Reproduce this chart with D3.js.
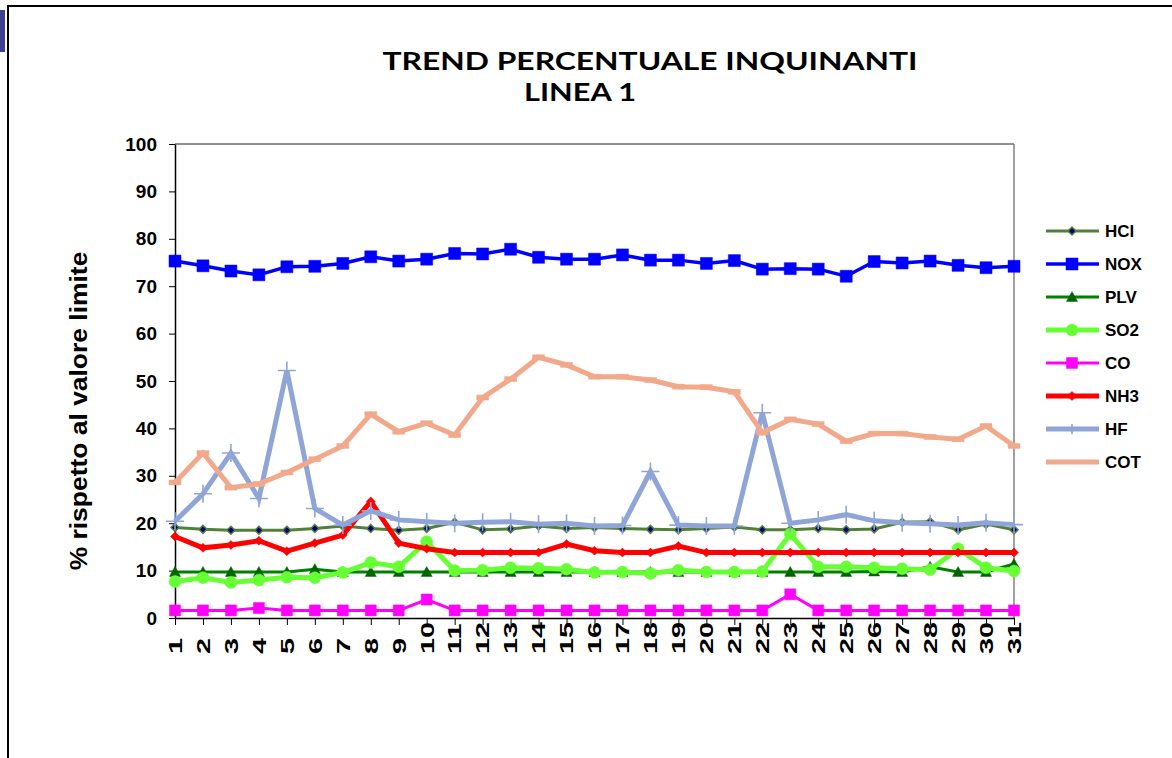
<!DOCTYPE html>
<html><head><meta charset="utf-8">
<script src="https://cdn.jsdelivr.net/npm/d3@7"></script>
<style>html,body{margin:0;padding:0;background:#fff;overflow:hidden}svg{display:block}</style>
</head><body>
<svg id="c" width="1172" height="758"></svg>
<script>
const days = d3.range(1, 32).map(String);
const yTicks = [0,10,20,30,40,50,60,70,80,90,100];
const seriesNames = ["HCl","NOX","PLV","SO2","CO","NH3","HF","COT"];
const HCl = [19.1,18.7,18.5,18.5,18.5,18.9,19.4,18.9,18.5,18.9,20.2,18.6,18.8,19.4,18.9,19.1,18.9,18.7,18.6,18.9,19.2,18.6,18.6,18.9,18.6,18.8,20.2,20.3,18.6,19.8,18.6];
const NOX = [75.3,74.3,73.2,72.4,74.1,74.2,74.8,76.2,75.3,75.7,76.9,76.8,77.8,76.1,75.7,75.7,76.6,75.5,75.5,74.8,75.4,73.6,73.7,73.6,72.1,75.2,74.9,75.3,74.4,73.9,74.2];
const PLV = [9.7,9.7,9.7,9.7,9.7,10.3,9.7,9.7,9.7,9.7,9.7,9.7,9.7,9.7,9.7,9.7,9.7,9.7,9.7,9.7,9.7,9.7,9.7,9.7,9.7,9.8,9.7,10.8,9.7,9.7,11.4];
const SO2 = [7.7,8.5,7.5,8.0,8.6,8.5,9.6,11.7,10.8,16.1,10.0,10.1,10.6,10.5,10.3,9.6,9.7,9.4,10.1,9.7,9.7,9.8,17.7,10.8,10.8,10.6,10.4,10.2,14.6,10.6,9.9];
const CO = [1.6,1.6,1.6,2.1,1.6,1.6,1.6,1.6,1.6,3.9,1.6,1.6,1.6,1.6,1.6,1.6,1.6,1.6,1.6,1.6,1.6,1.6,5.0,1.6,1.6,1.6,1.6,1.6,1.6,1.6,1.6];
const NH3 = [17.2,14.8,15.4,16.3,14.1,15.8,17.5,24.6,15.8,14.6,13.8,13.8,13.8,13.8,15.6,14.2,13.8,13.8,15.2,13.8,13.8,13.8,13.8,13.8,13.8,13.8,13.8,13.8,13.8,13.8,13.8];
const HF = [20.4,26.2,34.8,25.2,52.2,23.1,19.6,22.6,20.7,20.3,20.0,20.2,20.3,19.8,20.0,19.4,19.5,30.9,19.6,19.4,19.4,43.3,20.0,20.7,21.8,20.5,20.1,19.9,19.6,20.1,19.7];
const COT = [28.6,34.8,27.5,28.3,30.7,33.5,36.3,43.0,39.3,41.1,38.6,46.5,50.4,55.0,53.4,50.9,50.9,50.2,48.8,48.7,47.7,39.1,41.9,40.9,37.3,38.9,38.9,38.2,37.7,40.5,36.3];

const dataBy = {HCl, NOX, PLV, SO2, CO, NH3, HF, COT};
const styles = {
  HCl: {color:"#52803a", width:3, marker:"diamond", size:8, fill:"#00007a", stroke:"#52803a"},
  NOX: {color:"#0000ff", width:3.5, marker:"square", size:12, fill:"#0000ff"},
  PLV: {color:"#008000", width:3, marker:"triangle", size:11, fill:"#006400"},
  SO2: {color:"#66ff33", width:5, marker:"circle", size:12, fill:"#66ff33"},
  CO:  {color:"#ff00ff", width:3, marker:"square", size:11, fill:"#ff00ff"},
  NH3: {color:"#ff0000", width:5, marker:"diamond", size:9, fill:"#ff0000"},
  HF:  {color:"#8fa5d8", width:5, marker:"plus", size:18, fill:"#8fa5d8"},
  COT: {color:"#f2a98b", width:5, marker:"dash", size:12, fill:"#f2a98b"}
};

const svg = d3.select("#c");
const L = 175, R = 1014, T = 144, B = 618;
const x = d3.scalePoint().domain(days).range([L, R]);
const y = d3.scaleLinear().domain([0, 100]).range([B, T]);

// outer frame & slide artifacts
svg.append("rect").attr("x",0).attr("y",10).attr("width",5).attr("height",42).attr("fill","#3d4190");
svg.append("path").attr("d","M8,758 L8,6 L1172,6").attr("fill","none").attr("stroke","#000").attr("stroke-width",2);

// title
const tf = "Lato, 'Open Sans', sans-serif";
svg.append("text").attr("x",650).attr("y",70).attr("text-anchor","middle")
  .attr("font-family",tf).attr("font-weight",700).attr("font-size",25)
  .attr("textLength",535).attr("lengthAdjust","spacingAndGlyphs")
  .text("TREND PERCENTUALE INQUINANTI");
svg.append("text").attr("x",580).attr("y",101).attr("text-anchor","middle")
  .attr("font-family",tf).attr("font-weight",700).attr("font-size",25)
  .attr("textLength",112).attr("lengthAdjust","spacingAndGlyphs")
  .text("LINEA 1");

// plot borders
svg.append("line").attr("x1",L).attr("x2",R).attr("y1",T).attr("y2",T).attr("stroke","#222").attr("stroke-width",1);
svg.append("line").attr("x1",R).attr("x2",R).attr("y1",T).attr("y2",B).attr("stroke","#808080").attr("stroke-width",1.5);

// axes
const af = "'Liberation Sans', Arial, sans-serif";
const yAxis = svg.append("g").attr("transform",`translate(${L},0)`)
  .call(d3.axisLeft(y).tickValues(yTicks).tickSize(6).tickPadding(12).tickSizeOuter(0));
yAxis.select(".domain").attr("stroke","#000").attr("stroke-width",1.5);
yAxis.selectAll(".tick line").attr("stroke","#000");
yAxis.selectAll(".tick text").attr("font-family",af).attr("font-weight",700).attr("font-size",19).attr("fill","#000");

const xAxis = svg.append("g").attr("transform",`translate(0,${B})`)
  .call(d3.axisBottom(x).tickSize(7).tickSizeOuter(0));
xAxis.select(".domain").attr("stroke","#000").attr("stroke-width",1.5);
xAxis.selectAll(".tick line").attr("stroke","#000");
xAxis.selectAll(".tick text").attr("font-family",af).attr("font-weight",700).attr("font-size",18).attr("fill","#000")
  .attr("text-anchor","start").attr("dy","0.35em").attr("y",0).attr("x",0)
  .attr("transform","translate(0,36) rotate(-90) scale(1.6,1)");

// y label
svg.append("text").attr("transform","translate(87,411) rotate(-90) scale(1.15,1)").attr("text-anchor","middle")
  .attr("font-family",af).attr("font-weight",700).attr("font-size",23).text("% rispetto al valore limite");

function markerPath(type, s){
  const h = s/2;
  switch(type){
    case "square": return `M${-h},${-h}h${s}v${s}h${-s}Z`;
    case "diamond": return `M0,${-h}L${h},0L0,${h}L${-h},0Z`;
    case "triangle": return `M0,${-h}L${h},${h*0.8}L${-h},${h*0.8}Z`;
    case "circle": return d3.symbol(d3.symbolCircle, Math.PI*h*h)();
    case "plus": return `M${-h},0H${h}M0,${-h}V${h}`;
    case "dash": return `M${-h},-2.5h${s}v5h${-s}Z`;
  }
}
function drawMarker(g, type, st, cx, cy){
  const p = g.append("path").attr("transform",`translate(${cx},${cy})`).attr("d", markerPath(type, st.size));
  if (type === "plus") p.attr("fill","none").attr("stroke",st.color).attr("stroke-width",1.6);
  else p.attr("fill",st.fill).attr("stroke",st.stroke||st.fill).attr("stroke-width",st.stroke?1.5:0.5);
}

const line = d3.line().x((d,i)=>x(days[i])).y(d=>y(d));
const plot = svg.append("g");
seriesNames.forEach(name=>{
  const st = styles[name], vals = dataBy[name];
  const g = plot.append("g");
  g.append("path").datum(vals).attr("d",line).attr("fill","none").attr("stroke",st.color)
    .attr("stroke-width",st.width).attr("stroke-linejoin","miter");
  vals.forEach((v,i)=>drawMarker(g, st.marker, st, x(days[i]), y(v)));
});

// legend
const lg = svg.append("g");
seriesNames.forEach((name,i)=>{
  const st = styles[name], cy = 231 + i*33;
  lg.append("line").attr("x1",1046).attr("x2",1099).attr("y1",cy).attr("y2",cy).attr("stroke",st.color).attr("stroke-width",st.width);
  if (name !== "COT") drawMarker(lg, st.marker, Object.assign({}, st, {size: name==="HF"?10:st.size}), 1072, cy);
  lg.append("text").attr("x",1105).attr("y",cy).attr("dy","0.36em").attr("font-family",af).attr("font-weight",700)
    .attr("font-size",17).text(name);
});
</script>
</body></html>
